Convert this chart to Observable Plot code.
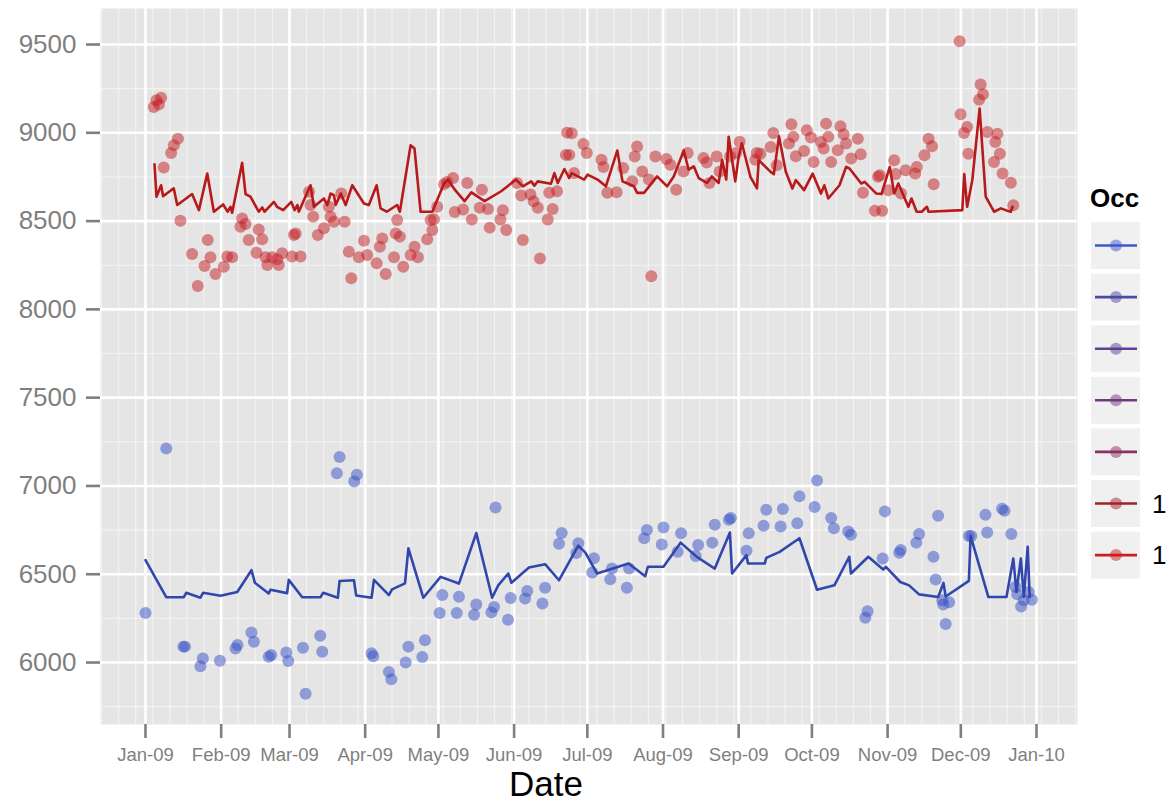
<!DOCTYPE html>
<html><head><meta charset="utf-8">
<script src="https://cdn.jsdelivr.net/npm/d3@7"></script>
<script src="https://cdn.jsdelivr.net/npm/@observablehq/plot@0.6"></script>
<style>
body{margin:0;background:#fff;}
#chart{width:1171px;height:801px;}
</style></head><body><div id="chart"></div>
<script>
// ---- data: [day offset from 2009-01-01, value] ----
const blueLine = [[0,6580],[8.5,6370],[15.7,6370],[16.7,6395],[22.5,6367],[23.6,6395],[30.7,6378],[37.6,6399],[43.4,6523],[44.8,6452],[50.5,6391],[51.2,6412],[58,6393],[58.7,6468],[64.2,6370],[71.7,6370],[72.8,6395],[78.8,6367],[79.5,6462],[85.4,6466],[86.3,6380],[92.6,6367],[93.6,6468],[99.7,6382],[101,6414],[106.3,6448],[107.7,6647],[113.8,6367],[120.9,6485],[128.4,6447],[135.5,6733],[142,6367],[144.5,6437],[148.6,6504],[149.9,6452],[157.1,6538],[163.7,6557],[169.4,6466],[177.3,6662],[180.2,6622],[185,6504],[197.9,6561],[204.7,6489],[205.8,6542],[212.2,6542],[219.2,6679],[225.8,6599],[233.2,6532],[239.4,6736],[240.3,6504],[246.2,6608],[246.8,6561],[253.7,6561],[254.3,6593],[259.8,6627],[267.9,6704],[275.1,6412],[282.2,6437],[288.3,6599],[289,6504],[296.1,6599],[302.2,6527],[303.3,6542],[309.2,6456],[312.8,6437],[316.9,6386],[324.7,6371],[325.5,6399],[326.9,6451],[327.8,6374],[337.3,6462],[338,6717],[345.3,6371],[352.7,6371],[355.5,6589],[356.8,6400],[358.6,6589],[359.8,6371],[361.4,6655],[362.2,6371]];

const bluePoints = [[0,6281],[8.5,7212],[15.5,6090],[16.2,6090],[22.5,5979],[23.5,6023],[30.5,6010],[36.9,6080],[37.7,6099],[43.4,6170],[44.4,6118],[50.5,6033],[51.5,6042],[57.7,6057],[58.5,6008],[64.5,6084],[65.6,5823],[71.6,6151],[72.4,6061],[78.4,7072],[79.5,7164],[85.5,7025],[86.6,7063],[92.6,6052],[93.3,6036],[99.7,5947],[100.7,5905],[106.6,6000],[107.7,6090],[113.4,6031],[114.5,6126],[120.5,6281],[121.6,6382],[127.5,6281],[128.4,6372],[134.6,6271],[135.5,6328],[141.7,6284],[142.8,6315],[143.4,6878],[148.5,6242],[149.6,6366],[155.5,6363],[156.4,6405],[162.6,6334],[163.7,6424],[169.4,6672],[170.5,6733],[176.5,6620],[177.3,6676],[183,6510],[183.7,6590],[190.4,6471],[191.1,6532],[197.2,6424],[198.1,6532],[204.3,6704],[205.4,6751],[211.5,6669],[212.2,6765],[218,6627],[219.4,6732],[225.4,6603],[226.4,6666],[232.2,6679],[233.2,6780],[239,6808],[239.8,6818],[246.2,6633],[247.1,6732],[253.2,6774],[254.3,6865],[260.2,6770],[261.1,6869],[267,6789],[267.9,6941],[274.1,6881],[275.1,7031],[280.9,6818],[282,6761],[287.9,6742],[289,6723],[294.9,6253],[295.8,6291],[302,6589],[302.9,6856],[308.8,6622],[309.4,6637],[315.8,6679],[316.9,6728],[322.8,6599],[323.7,6470],[324.7,6831],[326.4,6352],[326.8,6329],[327.8,6218],[329.2,6342],[337.3,6717],[338.3,6717],[344.1,6837],[344.8,6736],[350.9,6871],[351.9,6860],[354.7,6728],[356.4,6428],[357.1,6386],[358.7,6317],[359.8,6352],[361.8,6399],[363.1,6355]];

const redLine = [[3.7,8822],[4.5,8638],[6.4,8703],[7.2,8641],[10.5,8675],[11.6,8685],[13,8591],[14.3,8604],[19.1,8653],[21.9,8562],[25.3,8769],[28,8553],[31.8,8594],[33.7,8553],[34.8,8581],[35.5,8547],[39.6,8830],[41,8653],[43,8638],[46.4,8553],[47.8,8577],[48.8,8553],[52.6,8609],[53.9,8581],[56.4,8562],[59.7,8609],[61.1,8562],[62.2,8591],[62.8,8553],[67.6,8703],[69,8581],[73.1,8628],[74.5,8591],[75.8,8656],[77.2,8647],[77.9,8591],[80,8656],[82,8591],[84.7,8703],[89.5,8600],[91.5,8591],[94.7,8703],[96.3,8572],[98.8,8553],[103.1,8591],[104.2,8553],[108.6,8929],[110.2,8911],[112.7,8553],[117.5,8553],[122.3,8713],[123.9,8735],[126.7,8678],[130.7,8613],[133.5,8663],[138.9,8613],[145.7,8669],[151.8,8735],[154.6,8697],[158,8725],[159.3,8701],[160.7,8725],[166.1,8712],[167.5,8772],[168.9,8716],[171.6,8795],[173.6,8744],[174.6,8772],[179.7,8735],[181.1,8763],[185.2,8735],[188.6,8697],[193.3,8900],[195.4,8725],[200.1,8697],[201.4,8660],[204.2,8660],[209.6,8753],[213.7,8697],[216.4,8753],[220.5,8900],[222.5,8791],[224.6,8810],[226.6,8744],[230,8716],[232,8753],[234.8,8716],[236.2,8847],[237.9,8735],[238.9,8978],[240.2,8857],[241.6,8725],[243,8866],[244.3,8941],[247.8,8751],[250.5,8685],[251.2,8845],[256.1,8779],[257.4,8766],[259.5,8980],[262.3,8779],[265,8685],[266.4,8732],[269.8,8675],[273.3,8769],[276.7,8656],[278.1,8703],[279.7,8628],[284.3,8703],[287,8807],[288.4,8798],[293.2,8713],[294.6,8722],[299.4,8656],[301.5,8653],[304.9,8807],[306.7,8656],[308.4,8713],[312.5,8581],[313.8,8628],[315.9,8553],[318,8553],[320.1,8581],[320.8,8553],[334.6,8562],[335.4,8766],[336.6,8581],[338.7,8732],[341.7,9137],[344.2,8638],[347.6,8553],[350.4,8572],[352.4,8562],[354.5,8553],[355.2,8581]];

const redPoints = [[3.4,9146],[4.5,9184],[5.5,9161],[6.4,9199],[7.5,8803],[10.5,8886],[11.6,8929],[13.3,8967],[14.3,8502],[19.1,8314],[21.4,8133],[24.2,8246],[25.5,8393],[26.6,8295],[28.7,8201],[32.1,8242],[33.5,8299],[35.5,8295],[38.9,8468],[39.6,8515],[41,8483],[42.3,8393],[45.5,8321],[46.4,8453],[47.8,8397],[49.2,8295],[49.9,8252],[51.9,8295],[54,8284],[54.6,8252],[56,8318],[60,8299],[60.8,8421],[61.5,8430],[63.5,8299],[67,8666],[67.6,8591],[68.7,8525],[70.6,8421],[73.1,8459],[75.1,8581],[75.8,8525],[77.2,8496],[80.2,8656],[81.6,8496],[83.3,8327],[84.3,8176],[87.4,8295],[89.5,8389],[90.8,8308],[94.7,8261],[96,8355],[97,8402],[98.4,8201],[101.8,8295],[102.5,8430],[103.1,8506],[104.2,8412],[105.6,8242],[108.6,8308],[110.2,8355],[111.6,8295],[115.4,8397],[116.8,8506],[117.5,8449],[118.2,8510],[119.5,8581],[122.3,8709],[123.6,8722],[126,8744],[126.7,8551],[130.1,8566],[131.8,8716],[133.7,8509],[136.9,8575],[137.8,8678],[140.3,8569],[141,8463],[145.4,8509],[146.4,8562],[147.8,8449],[152.2,8716],[153.9,8645],[154.6,8393],[157.7,8650],[159,8613],[160.7,8575],[161.6,8288],[164.8,8509],[165.4,8660],[166.8,8569],[168.6,8669],[172.2,8875],[172.7,9001],[173.6,8875],[174.6,8997],[175.6,8772],[179.4,8937],[180.8,8885],[186.8,8847],[187.6,8806],[189.2,8660],[193,8663],[195.7,8800],[199.4,8725],[200.4,8866],[201.4,8922],[203.5,8781],[206.2,8735],[207.2,8187],[208.9,8866],[213.4,8851],[215,8819],[217.4,8678],[220.4,8781],[222.1,8885],[228.6,8857],[229.9,8832],[231,8716],[234,8866],[235.2,8781],[239.5,8866],[242,8885],[243.4,8950],[249.8,8847],[250.4,8885],[251.9,8882],[256.1,8920],[257.2,8999],[258.6,8816],[263.6,8939],[264.6,9048],[265.4,8977],[266.4,8867],[269.8,8897],[270.9,9014],[272.6,8973],[273.7,8835],[276.7,8948],[277.8,8911],[278.8,9052],[279.7,8977],[280.9,8835],[283.6,8901],[284.7,9037],[286,8992],[287,8939],[289.1,8854],[291.8,8967],[293,8879],[293.9,8660],[298.8,8558],[300.1,8751],[300.8,8760],[301.8,8558],[304.3,8675],[306.7,8845],[307.3,8766],[309.5,8656],[311.4,8788],[315.3,8769],[316,8807],[319.1,8873],[320.8,8967],[322.2,8924],[322.9,8709],[333.5,9519],[333.9,9105],[335.3,8999],[336.6,9033],[337.1,8882],[341.5,9187],[342.1,9274],[343.1,9218],[344.9,9005],[347.6,8835],[348.1,8948],[349,8995],[350,8882],[351.1,8769],[354.5,8717],[355.5,8590]];

const yTicks = [6000, 6500, 7000, 7500, 8000, 8500, 9000, 9500];
const yMinor = [5750, 6250, 6750, 7250, 7750, 8250, 8750, 9250];
const xTickLabels = ["Jan-09","Feb-09","Mar-09","Apr-09","May-09","Jun-09","Jul-09","Aug-09","Sep-09","Oct-09","Nov-09","Dec-09","Jan-10"];
const xLabel = "Date";
const legendTitle = "Occ";
const legendLabels = ["", "", "", "", "", "1", "1"];
const legendColors = ["#3c58cc", "#4a4aa6", "#5e4092", "#723a7e", "#8c3062", "#a3202e", "#c81e1e"];

// ---- build ----
const base = Date.UTC(2009, 0, 1);
const toDate = d => new Date(base + d * 86400000);
const rows = arr => arr.map(([d, v]) => ({date: toDate(d), value: v}));

const monthDates = xTickLabels.map((_, i) => new Date(Date.UTC(2009, i, 1)));
const labelOf = new Map(monthDates.map((d, i) => [+d, xTickLabels[i]]));
const xDomain = [new Date(Date.UTC(2008, 11, 13, 13, 40)), new Date(Date.UTC(2010, 0, 17, 19, 10))];
const weekDates = d3.utcSunday.range(xDomain[0], xDomain[1]);

const font = "'Liberation Sans', Arial, Helvetica, sans-serif";
const axisGray = "#7f7f7f";

const plot = Plot.plot({
  width: 1171, height: 801,
  marginLeft: 100, marginRight: 94, marginTop: 8, marginBottom: 77,
  style: {fontFamily: font, background: "#fff", overflow: "visible"},
  x: {type: "utc", domain: xDomain},
  y: {domain: [5649, 9704]},
  marks: [
    Plot.frame({fill: "#e5e5e5", stroke: null}),
    Plot.ruleX(weekDates, {stroke: "#f3f3f3", strokeWidth: 1.1}),
    Plot.ruleY(yMinor, {stroke: "#f3f3f3", strokeWidth: 1.1}),
    Plot.ruleX(monthDates, {stroke: "#ffffff", strokeWidth: 2.6}),
    Plot.ruleY(yTicks, {stroke: "#ffffff", strokeWidth: 2.6}),
    Plot.dot(rows(bluePoints), {x: "date", y: "value", r: 6, fill: "#3c55c6", fillOpacity: 0.52, stroke: "none"}),
    Plot.dot(rows(redPoints), {x: "date", y: "value", r: 6, fill: "#c41e24", fillOpacity: 0.5, stroke: "none"}),
    Plot.line(rows(blueLine), {x: "date", y: "value", stroke: "#3247ad", strokeWidth: 2.6, strokeLinejoin: "round"}),
    Plot.line(rows(redLine), {x: "date", y: "value", stroke: "#b8191b", strokeWidth: 2.6, strokeLinejoin: "round"}),
    Plot.axisY({ticks: yTicks, tickSize: 14, tickPadding: 10, fontSize: 26, color: axisGray, strokeWidth: 2.6, label: null, tickFormat: d => String(d)}),
    Plot.axisX({ticks: monthDates, tickSize: 14, tickPadding: 9, fontSize: 18.5, color: axisGray, strokeWidth: 2.6, label: null, tickFormat: d => labelOf.get(+d)})
  ]
});

document.getElementById("chart").appendChild(plot);

// axis title and legend
const svg = d3.select(plot);
svg.append("text").attr("x", 546).attr("y", 796).attr("text-anchor", "middle")
  .attr("font-family", font).attr("font-size", 35).attr("fill", "#000").text(xLabel);

const lg = svg.append("g").attr("font-family", font).attr("text-anchor", "start");
lg.append("text").attr("x", 1090).attr("y", 207).attr("text-anchor", "start").attr("font-size", 26).attr("font-weight", "bold")
  .attr("fill", "#000").text(legendTitle);
legendColors.forEach((c, i) => {
  const y0 = 222 + i * 51.6;
  lg.append("rect").attr("x", 1091).attr("y", y0).attr("width", 49).attr("height", 47).attr("fill", "#f0f0f0");
  lg.append("line").attr("x1", 1095).attr("x2", 1137).attr("y1", y0 + 23.5).attr("y2", y0 + 23.5)
    .attr("stroke", c).attr("stroke-width", 2.6);
  lg.append("circle").attr("cx", 1116).attr("cy", y0 + 23.5).attr("r", 6).attr("fill", c).attr("fill-opacity", 0.5);
  if (legendLabels[i]) {
    lg.append("text").attr("x", 1152).attr("y", y0 + 23.5).attr("dy", "0.36em").attr("text-anchor", "start")
      .attr("font-size", 26).attr("fill", "#000").text(legendLabels[i]);
  }
});
</script>
</body></html>
